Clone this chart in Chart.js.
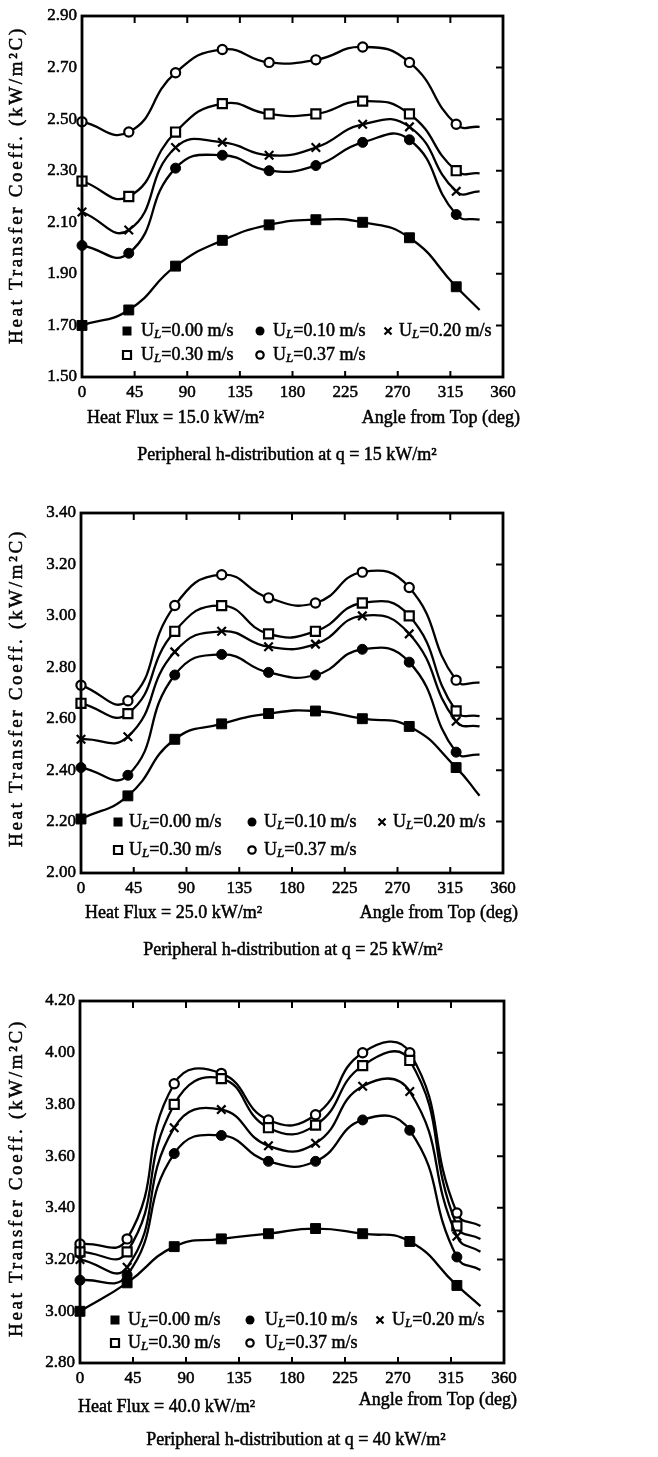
<!DOCTYPE html>
<html>
<head>
<meta charset="utf-8">
<script src="https://cdn.jsdelivr.net/npm/chart.js@4.4.1/dist/chart.umd.min.js"></script>
<style>
  body { margin: 0; background: #fff; }
  canvas { position: absolute; left: 0; }
</style>
</head>
<body>
<canvas id="q15" width="658" height="490" style="top:0px"></canvas>
<canvas id="q25" width="658" height="495" style="top:490px"></canvas>
<canvas id="q40" width="658" height="472" style="top:985px"></canvas>
<script>
// angle from top (deg); the last angle only carries the curve tail, no marker
var angles = [0, 40, 80, 120, 160, 200, 240, 280, 320, 340];
var speeds = ["0.00", "0.10", "0.20", "0.30", "0.37"];

// h in kW/m2C at q = 15 kW/m2
var h15_000 = [1.70, 1.76, 1.93, 2.03, 2.09, 2.11, 2.10, 2.04, 1.85, 1.76];
var h15_010 = [2.01, 1.98, 2.31, 2.36, 2.30, 2.32, 2.41, 2.42, 2.13, 2.11];
var h15_020 = [2.14, 2.07, 2.39, 2.41, 2.36, 2.39, 2.48, 2.47, 2.22, 2.22];
var h15_030 = [2.26, 2.20, 2.45, 2.56, 2.52, 2.52, 2.57, 2.52, 2.30, 2.29];
var h15_037 = [2.49, 2.45, 2.68, 2.77, 2.72, 2.73, 2.78, 2.72, 2.48, 2.47];

// q = 25 kW/m2
var h25_000 = [2.21, 2.30, 2.52, 2.58, 2.62, 2.63, 2.60, 2.57, 2.41, 2.30];
var h25_010 = [2.41, 2.38, 2.77, 2.85, 2.78, 2.77, 2.87, 2.82, 2.47, 2.46];
var h25_020 = [2.52, 2.53, 2.86, 2.94, 2.88, 2.89, 3.00, 2.93, 2.59, 2.57];
var h25_030 = [2.66, 2.62, 2.94, 3.04, 2.93, 2.94, 3.05, 3.00, 2.63, 2.61];
var h25_037 = [2.73, 2.67, 3.04, 3.16, 3.07, 3.05, 3.17, 3.11, 2.75, 2.74];

// q = 40 kW/m2
var h40_000 = [3.00, 3.11, 3.25, 3.28, 3.30, 3.32, 3.30, 3.27, 3.10, 3.02];
var h40_010 = [3.12, 3.14, 3.61, 3.68, 3.58, 3.58, 3.74, 3.70, 3.21, 3.16];
var h40_020 = [3.20, 3.17, 3.71, 3.78, 3.64, 3.65, 3.87, 3.85, 3.29, 3.23];
var h40_030 = [3.23, 3.23, 3.80, 3.90, 3.71, 3.72, 3.95, 3.97, 3.33, 3.28];
var h40_037 = [3.26, 3.28, 3.88, 3.92, 3.74, 3.76, 4.00, 4.00, 3.38, 3.33];

var FONT = "Liberation Serif";

// marker for each liquid velocity
var markers = [
  {style: "rect", r: 7, fill: "#000", bw: 1},
  {style: "circle", r: 5, fill: "#000", bw: 1},
  {style: "crossRot", r: 6, fill: "#000", bw: 2.2},
  {style: "rect", r: 6.4, fill: "#fff", bw: 2.2},
  {style: "circle", r: 4.6, fill: "#fff", bw: 2.2}
];

// slightly heavy text, like the printed figure
function text(ctx, s, x, y) {
  ctx.fillText(s, x, y);
  ctx.lineWidth = 0.5;
  ctx.strokeText(s, x, y);
}

function drawMarker(ctx, i, x, y) {
  ctx.save();
  ctx.strokeStyle = "#000";
  ctx.fillStyle = markers[i].fill;
  ctx.lineWidth = 2.2;
  ctx.beginPath();
  if (i == 0) { ctx.fillRect(x - 4.5, y - 4.5, 9, 9); }
  else if (i == 1) { ctx.arc(x, y, 4.5, 0, Math.PI * 2); ctx.fill(); }
  else if (i == 2) {
    ctx.moveTo(x - 3.5, y - 3.5); ctx.lineTo(x + 3.5, y + 3.5);
    ctx.moveTo(x + 3.5, y - 3.5); ctx.lineTo(x - 3.5, y + 3.5); ctx.stroke();
  }
  else if (i == 3) { ctx.rect(x - 4, y - 4, 8, 8); ctx.fill(); ctx.stroke(); }
  else { ctx.arc(x, y, 3.7, 0, Math.PI * 2); ctx.fill(); ctx.stroke(); }
  ctx.restore();
}

// "U" with italic subscript L, then the value
function drawSpeedLabel(ctx, x, y, speed) {
  ctx.font = "18px '" + FONT + "'";
  text(ctx, "U", x, y);
  x += ctx.measureText("U").width;
  ctx.font = "italic 13px '" + FONT + "'";
  text(ctx, "L", x, y + 4);
  x += ctx.measureText("L").width;
  ctx.font = "18px '" + FONT + "'";
  text(ctx, "=" + speed + " m/s", x, y);
}

var paper = {
  id: "paper",
  afterDraw: function(chart, args, o) {
    var ctx = chart.ctx, a = chart.chartArea;
    var xs = chart.scales.x, ys = chart.scales.y;
    ctx.save();
    ctx.strokeStyle = "#000";
    ctx.lineWidth = 2.8;
    ctx.strokeRect(a.left, a.top, a.right - a.left, a.bottom - a.top);

    // inward tick marks
    ctx.lineWidth = 2;
    ctx.beginPath();
    xs.ticks.forEach(function(t) {
      if (t.value <= xs.min || t.value >= xs.max) return;
      var px = xs.getPixelForValue(t.value);
      ctx.moveTo(px, a.top); ctx.lineTo(px, a.top + 7);
      ctx.moveTo(px, a.bottom); ctx.lineTo(px, a.bottom - 6);
    });
    ys.ticks.forEach(function(t) {
      if (t.value <= ys.min + 1e-6 || t.value >= ys.max - 1e-6) return;
      var py = ys.getPixelForValue(t.value);
      ctx.moveTo(a.right, py); ctx.lineTo(a.right - 7, py);
    });
    ctx.stroke();

    ctx.fillStyle = "#000";
    ctx.textBaseline = "middle";

    // y axis title
    ctx.save();
    ctx.translate(17, o.titleY);
    ctx.rotate(-Math.PI / 2);
    ctx.font = "19px '" + FONT + "'";
    var title = "Heat Transfer Coeff. (kW/m\u00B2C)";
    var w = ctx.measureText(title).width;
    ctx.letterSpacing = Math.max(0, (318 - w) / title.length) + "px";
    ctx.textAlign = "center";
    text(ctx, title, 0, 0);
    ctx.restore();

    // legend inside the plot
    ctx.textAlign = "left";
    speeds.forEach(function(s, i) {
      var col = i < 3 ? i : i - 3;
      var row = i < 3 ? 0 : 1;
      var y = o.legendRows[row];
      drawMarker(ctx, i, o.legendCols[col][0], y);
      drawSpeedLabel(ctx, o.legendCols[col][1], y, s);
    });

    // notes under the axis
    ctx.font = "18px '" + FONT + "'";
    ctx.textAlign = "left";
    text(ctx, "Heat Flux = " + o.flux + " kW/m\u00B2", o.fluxX, o.fluxY);
    ctx.font = "18px '" + FONT + "'";
    ctx.textAlign = "right";
    text(ctx, "Angle from Top (deg)", o.angleX, o.angleY);
    ctx.font = "18px '" + FONT + "'";
    ctx.textAlign = "center";
    text(ctx, "Peripheral h-distribution at q = " + o.q + " kW/m\u00B2", o.capX, o.capY);
    ctx.restore();
  }
};

function makeChart(id, series, yMin, yMax, box, notes) {
  var datasets = series.map(function(vals, i) {
    var m = markers[i];
    return {
      label: "UL=" + speeds[i] + " m/s",
      data: angles.map(function(a, k) { return {x: a, y: vals[k]}; }),
      borderColor: "#000",
      borderWidth: 2.3,
      tension: 0.5,
      fill: false,
      clip: false,
      pointStyle: m.style,
      pointRadius: angles.map(function(a, k) { return k == angles.length - 1 ? 0 : m.r; }),
      pointBackgroundColor: m.fill,
      pointBorderColor: "#000",
      pointBorderWidth: m.bw
    };
  });

  var tickFont = {family: FONT, size: 17};

  new Chart(id, {
    type: "line",
    data: {datasets: datasets},
    plugins: [paper],
    options: {
      responsive: false,
      animation: false,
      events: [],
      layout: {padding: {left: 0, top: box.top, right: 658 - box.right, bottom: box.bottom}},
      plugins: {
        legend: {display: false},
        tooltip: {enabled: false},
        paper: notes
      },
      scales: {
        x: {
          type: "linear", min: 0, max: 360,
          grid: {display: false, drawTicks: false},
          border: {display: false},
          ticks: {stepSize: 45, padding: 5, color: "#000", maxRotation: 0, autoSkip: false,
                  font: tickFont, textStrokeWidth: 0.5, textStrokeColor: "#000"},
          afterFit: function(s) { s.height = 30; }
        },
        y: {
          min: yMin, max: yMax,
          grid: {display: false, drawTicks: false},
          border: {display: false},
          ticks: {stepSize: 0.2, padding: 5, color: "#000", font: tickFont,
                  textStrokeWidth: 0.5, textStrokeColor: "#000",
                  callback: function(v) { return v.toFixed(2); }},
          afterFit: function(s) { s.width = box.left; }
        }
      }
    }
  });
}

makeChart("q15", [h15_000, h15_010, h15_020, h15_030, h15_037], 1.5, 2.9,
  {left: 82, right: 503, top: 16, bottom: 83},
  {titleY: 185, legendRows: [331, 355], legendCols: [[127, 141], [260, 273], [388, 399]],
   flux: "15.0", fluxX: 87, fluxY: 418, angleX: 520, angleY: 418, q: "15", capX: 287, capY: 455});

makeChart("q25", [h25_000, h25_010, h25_020, h25_030, h25_037], 2.0, 3.4,
  {left: 81, right: 503, top: 23, bottom: 82},
  {titleY: 198, legendRows: [332, 360], legendCols: [[118, 129], [252, 264], [382, 393]],
   flux: "25.0", fluxX: 85, fluxY: 423, angleX: 518, angleY: 423, q: "25", capX: 293, capY: 460});

makeChart("q40", [h40_000, h40_010, h40_020, h40_030, h40_037], 2.8, 4.2,
  {left: 80, right: 504, top: 16, bottom: 64},
  {titleY: 193, legendRows: [335, 358], legendCols: [[115, 128], [250, 265], [380, 392]],
   flux: "40.0", fluxX: 78, fluxY: 422, angleX: 517, angleY: 415, q: "40", capX: 296, capY: 455});
</script>
</body>
</html>
